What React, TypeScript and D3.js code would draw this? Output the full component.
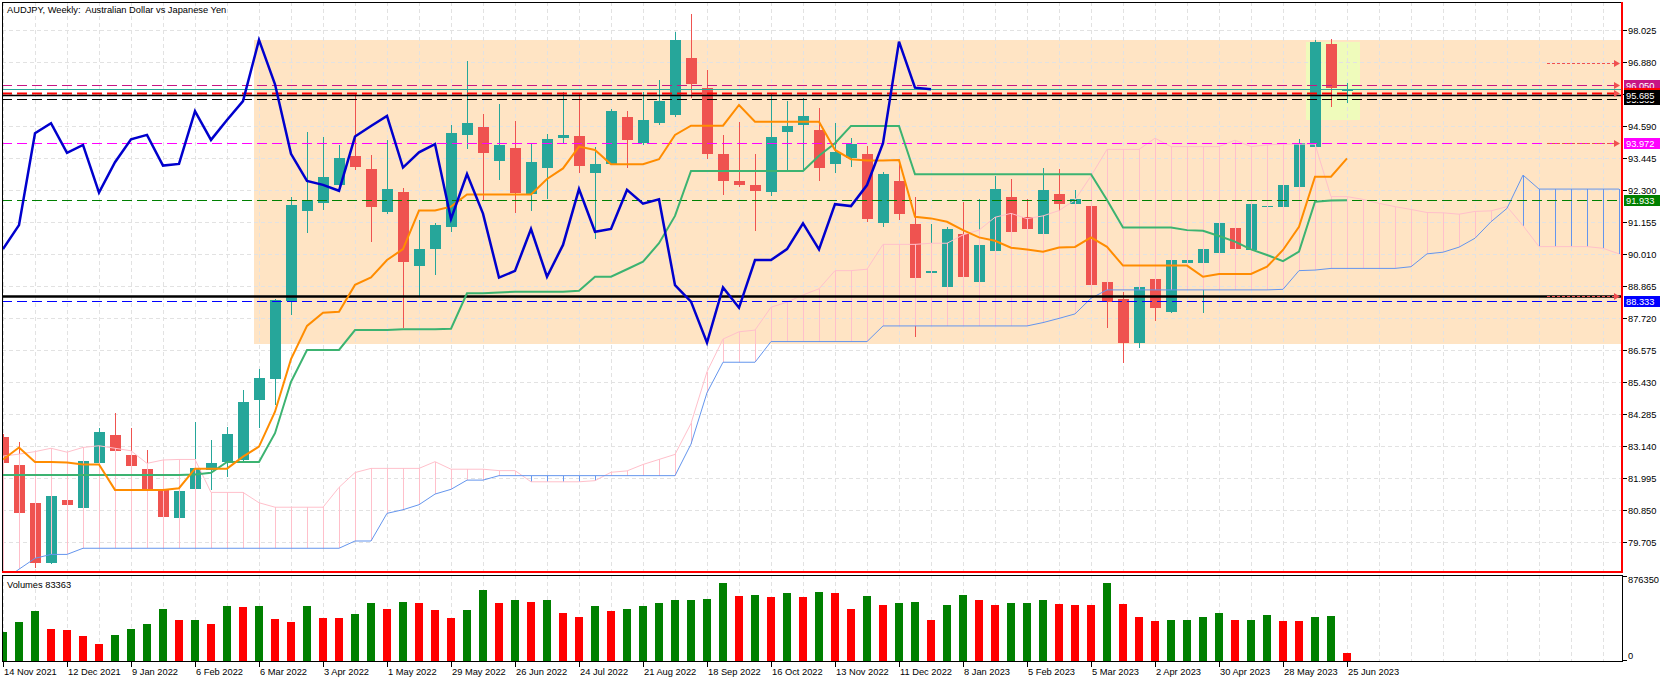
import * as d3 from "d3";

// Weekly AUDJPY candles, 14 Nov 2021 .. 25 Jun 2023 (85 bars)
const OPEN = [
  83.44, 82.45, 81.10, 78.95, 81.20, 80.92, 82.53, 83.52, 82.81, 82.31,
  81.58, 80.56, 81.60, 82.27, 82.56, 82.63, 84.78, 85.53, 88.33, 91.56,
  91.84, 92.48, 93.51, 93.05, 91.52, 92.21, 89.59, 90.17, 90.98, 94.27,
  94.55, 93.35, 93.79, 92.14, 93.07, 94.15, 94.23, 92.91, 93.23, 94.91,
  93.97, 94.70, 94.98, 97.02, 95.95, 93.59, 92.62, 92.48, 92.21, 94.39,
  94.61, 94.45, 93.23, 93.45, 93.59, 91.13, 92.62, 91.08, 89.33, 88.83,
  90.72, 89.01, 90.12, 92.04, 91.32, 90.72, 92.15, 91.81, 91.72, 88.99,
  88.38, 86.81, 89.10, 87.94, 89.67, 89.67, 90.03, 90.925, 90.15, 91.68,
  91.70, 92.41, 93.85, 97.52, 95.83,
];
const HIGH = [
  83.55, 83.26, 81.20, 81.40, 81.25, 82.62, 83.77, 84.32, 83.77, 82.99,
  81.62, 81.55, 83.99, 83.35, 83.82, 85.13, 85.89, 88.40, 92.03, 94.39,
  94.21, 93.91, 95.76, 93.55, 94.09, 92.38, 91.22, 91.10, 94.62, 96.91,
  95.02, 95.37, 94.77, 93.99, 94.29, 95.79, 95.72, 93.82, 95.19, 95.12,
  95.79, 96.23, 97.97, 98.60, 96.59, 94.27, 94.74, 93.59, 95.72, 95.48,
  95.58, 95.22, 94.68, 94.17, 93.88, 92.95, 93.23, 92.06, 91.08, 90.98,
  91.88, 91.97, 92.81, 92.69, 91.96, 93.10, 93.05, 92.30, 91.76, 89.02,
  88.66, 88.85, 89.12, 89.82, 89.82, 90.22, 91.12, 90.95, 91.82, 91.75,
  92.50, 94.12, 97.65, 97.70, 96.12,
];
const LOW = [
  82.40, 80.50, 78.77, 78.89, 80.98, 80.88, 82.50, 82.90, 82.35, 81.55,
  80.55, 80.50, 81.55, 81.56, 82.01, 82.60, 83.77, 84.61, 87.82, 90.77,
  91.58, 92.40, 93.00, 90.45, 91.45, 87.35, 88.48, 89.25, 90.80, 93.76,
  91.94, 92.65, 91.46, 91.55, 91.96, 93.97, 92.89, 90.53, 93.18, 93.10,
  93.92, 94.62, 94.90, 95.58, 93.41, 92.12, 92.42, 90.83, 92.09, 93.01,
  93.01, 92.62, 92.89, 93.13, 91.16, 90.98, 91.22, 87.02, 89.30, 88.78,
  89.10, 88.95, 90.05, 90.70, 90.85, 90.70, 91.46, 91.78, 88.85, 87.34,
  86.09, 86.65, 87.62, 87.88, 89.63, 87.88, 89.98, 90.15, 90.10, 91.65,
  91.68, 92.38, 93.80, 95.28, 95.40,
];
const CLOSE = [
  82.51, 80.74, 78.95, 81.34, 81.03, 82.59, 83.63, 82.96, 82.41, 81.58,
  80.60, 81.52, 82.33, 82.52, 83.56, 84.71, 85.57, 88.36, 91.76, 91.94,
  92.76, 93.44, 93.13, 91.70, 92.33, 89.73, 90.18, 91.04, 94.33, 94.69,
  93.63, 93.91, 92.20, 93.29, 94.11, 94.27, 93.17, 93.23, 95.12, 94.09,
  94.80, 95.48, 97.67, 96.08, 93.59, 92.62, 92.48, 92.27, 94.21, 94.59,
  94.95, 93.10, 93.645, 93.94, 91.26, 92.87, 91.45, 89.16, 89.40, 90.90,
  89.19, 90.33, 92.33, 90.80, 90.90, 92.30, 91.81, 91.96, 88.89, 88.30,
  86.83, 88.81, 88.08, 89.79, 89.79, 90.18, 91.10, 90.17, 91.79, 91.72,
  92.475, 93.97, 97.61, 95.96, 95.90,
];
const VOLUME = [
  303200, 401400, 512700, 330400, 319900, 259400, 178800, 269900, 330400, 381200,
  532800, 421500, 422800, 381200, 562600, 561000, 563500, 431200, 401400, 562600,
  441700, 440500, 482000, 602900, 532800, 613400, 593300, 522300, 441700, 522300,
  734400, 602900, 624000, 613400, 633600, 494300, 454800, 562600, 515300, 532800,
  562600, 596800, 624000, 633600, 644100, 805400, 673900, 675500, 664300, 704600,
  664300, 714200, 704600, 532800, 673900, 573100, 602900, 613400, 421500, 573100,
  684400, 624000, 573100, 593300, 594800, 624000, 582800, 581200, 573100, 799200,
  586300, 454800, 414500, 425000, 426500, 454800, 495100, 425000, 426500, 475000,
  414500, 413000, 454800, 465300, 83363,
];

// Ichimoku lines
const TENKAN = [
  82.65, 83.08, 82.56, 82.56, 82.54, 82.47, 82.47, 81.56, 81.56, 81.56,
  81.56, 81.62, 82.32, 82.32, 82.32, 82.75, 83.11, 84.36, 86.24, 87.43,
  87.90, 87.94, 88.90, 89.17, 89.79, 90.18, 91.56, 91.56, 91.70, 92.14,
  92.14, 92.14, 92.14, 92.14, 92.69, 93.07, 93.85, 93.73, 93.22, 93.22,
  93.22, 93.40, 94.27, 94.60, 94.60, 94.60, 95.34, 94.74, 94.74, 94.74,
  94.74, 94.74, 93.73, 93.40, 93.35, 93.35, 93.37, 91.34, 91.28, 91.16,
  90.86, 90.60, 90.48, 90.23, 90.17, 90.09, 90.24, 90.26, 90.60, 90.26,
  89.59, 89.59, 89.59, 89.59, 89.59, 89.19, 89.29, 89.29, 89.29, 89.55,
  90.15, 90.98, 92.77, 92.77, 93.43,
];
const KIJUN = [
  82.09, 82.09, 82.09, 82.09, 82.09, 82.09, 82.09, 82.09, 82.09, 82.09,
  82.09, 82.09, 82.11, 82.17, 82.56, 82.56, 82.56, 83.59, 85.43, 86.57,
  86.57, 86.57, 87.28, 87.28, 87.28, 87.31, 87.31, 87.31, 87.33, 88.60,
  88.60, 88.63, 88.65, 88.65, 88.65, 88.65, 88.69, 89.19, 89.19, 89.46,
  89.73, 90.39, 91.37, 92.98, 92.98, 92.98, 92.98, 92.98, 92.98, 92.98,
  92.98, 93.52, 93.97, 94.59, 94.59, 94.59, 94.59, 92.86, 92.86, 92.86,
  92.86, 92.86, 92.86, 92.86, 92.86, 92.86, 92.86, 92.86, 92.86, 91.94,
  90.95, 90.95, 90.95, 90.95, 90.86, 90.84, 90.65, 90.45, 90.17, 89.97,
  89.75, 90.09, 91.88, 91.92, 91.933,
];
// Senkou spans run 26 bars past the last candle; the panel cuts them at bar 101
const SPAN_A = [
  82.77, 82.84, 82.93, 83.05, 82.91, 83.08, 83.14, 83.05, 82.96, 82.51,
  82.63, 82.65, 82.65, 81.47, 81.47, 81.47, 81.10, 80.94, 80.94, 80.94,
  80.94, 81.65, 82.18, 82.33, 82.33, 82.33, 82.33, 82.57, 82.30, 82.30,
  82.30, 82.25, 82.25, 81.85, 81.85, 81.85, 81.85, 81.89, 82.19, 82.24,
  82.47, 82.65, 82.83, 83.94, 85.79, 86.96, 87.22, 87.28, 88.10, 88.28,
  88.54, 88.76, 89.41, 89.41, 89.46, 90.35, 90.35, 90.35, 90.39, 90.39,
  90.69, 90.86, 91.32, 91.46, 91.27, 91.37, 91.56, 91.94, 92.80, 93.75,
  93.75, 93.75, 94.15, 93.85, 93.85, 93.85, 93.85, 94.08, 93.85, 93.91,
  93.94, 93.94, 93.94, 92.06, 92.06, 91.96, 91.82, 91.70, 91.60, 91.49,
  91.48, 91.43, 91.53, 91.55, 91.70, 91.02, 90.27, 90.27, 90.27, 90.27,
  90.21, 90.01,
];
const SPAN_B = [
  78.30, 78.72, 79.11, 79.25, 79.25, 79.47, 79.47, 79.47, 79.47, 79.47,
  79.47, 79.47, 79.47, 79.47, 79.47, 79.47, 79.47, 79.47, 79.47, 79.47,
  79.47, 79.47, 79.73, 79.73, 80.72, 80.85, 81.03, 81.41, 81.58, 81.91,
  81.91, 82.07, 82.07, 82.07, 82.07, 82.07, 82.07, 82.07, 82.07, 82.07,
  82.07, 82.07, 82.07, 83.20, 85.04, 86.13, 86.13, 86.13, 86.87, 86.87,
  86.87, 86.87, 86.87, 86.87, 86.87, 87.43, 87.43, 87.43, 87.43, 87.43,
  87.43, 87.43, 87.43, 87.43, 87.43, 87.55, 87.70, 87.86, 88.42, 88.72,
  88.72, 88.72, 88.72, 88.72, 88.72, 88.72, 88.72, 88.72, 88.72, 88.72,
  88.74, 89.41, 89.43, 89.49, 89.49, 89.49, 89.49, 89.49, 89.55, 90.01,
  90.07, 90.25, 90.57, 91.16, 91.64, 92.83, 92.33, 92.33, 92.33, 92.33,
  92.33, 92.33,
];
const CHIKOU_SHIFT = 26;

const DATE_LABELS = [
  "14 Nov 2021", "12 Dec 2021", "9 Jan 2022", "6 Feb 2022", "6 Mar 2022", "3 Apr 2022",
  "1 May 2022", "29 May 2022", "26 Jun 2022", "24 Jul 2022", "21 Aug 2022", "18 Sep 2022",
  "16 Oct 2022", "13 Nov 2022", "11 Dec 2022", "8 Jan 2023", "5 Feb 2023", "5 Mar 2023",
  "2 Apr 2023", "30 Apr 2023", "28 May 2023", "25 Jun 2023",
];
const PRICE_TICKS = [
  98.025, 96.88, 95.735, 94.59, 93.445, 92.3, 91.155, 90.01, 88.865,
  87.72, 86.575, 85.43, 84.285, 83.14, 81.995, 80.85, 79.705,
];
// this tick's text is covered by the price tags in the reference
const HIDDEN_TICK = 95.735;
const VOLUME_MAX = 876350;

// horizontal levels drawn on the chart
const LEVELS = {
  violet: 96.05,
  bid: 95.9,
  redDash: 95.76,
  black: 95.685,
  blackDash: 95.565,
  magenta: 93.972,
  green: 91.933,
  support: 88.512,
  blue: 88.333,
};
const TRADE_LINES = [96.86, 93.972, 88.512];
const TRADE_ARROWS = [96.05, 95.76];
const TRADE_FROM = 96.5;

const RANGE_BOX = { from: 15.69, to: 120, top: 97.67, bottom: 86.79 };
const LAST_BOX = { from: 81.44, to: 84.81, top: 97.61, bottom: 94.8 };

const FONT = "Tahoma, 'Liberation Sans', Arial, sans-serif";
const BULL = "#26a69a";
const BEAR = "#ef5350";

export default function App() {
  const W = 1670;
  const H = 683;
  const left = 2;
  const right = 1622;
  const top = 2;
  const bottom = 572;
  const volTop = 575;
  const volBottom = 662;

  const x = d3.scaleLinear().domain([0, 101]).range([3, 3 + 16 * 101]);
  const y = d3.scaleLinear().domain([79.705, 98.025]).range([541.7, 30]);
  const yv = d3.scaleLinear().domain([0, VOLUME_MAX]).range([661, 576]);
  const px = (i: number) => Math.round(x(i));
  const py = (p: number) => Math.round(y(p));

  const idx = OPEN.map((_, i) => i);
  const cloudIdx = SPAN_A.map((_, i) => i);
  const gridBars = d3.range(0, 101, 2);

  const line = d3
    .line<[number, number]>()
    .x((d) => x(d[0]))
    .y((d) => y(d[1]));

  const seriesPath = (vals: number[], offset = 0) =>
    line(vals.map((v, i) => [i + offset, v] as [number, number])) ?? "";

  const chikou = CLOSE.slice(CHIKOU_SHIFT);

  const levelStyle: Record<string, { stroke: string; w: number; dash?: string }> = {
    violet: { stroke: "#c71585", w: 1, dash: "10,5" },
    bid: { stroke: "#26a69a", w: 1 },
    redDash: { stroke: "#ff0000", w: 2, dash: "10,5" },
    black: { stroke: "#000000", w: 1.3 },
    blackDash: { stroke: "#000000", w: 1, dash: "10,5" },
    magenta: { stroke: "#ff00ff", w: 1, dash: "10,5" },
    green: { stroke: "#008000", w: 1, dash: "10,5" },
    support: { stroke: "#000000", w: 2.5 },
    blue: { stroke: "#0000ff", w: 1, dash: "10,5" },
  };

  // price tags on the axis; the red one sits under the black tags, so only its box shows
  const labelBoxes: { key: keyof typeof LEVELS; fill: string; showText: boolean }[] = [
    { key: "violet", fill: "#c71585", showText: true },
    { key: "redDash", fill: "#ff0000", showText: false },
    { key: "blackDash", fill: "#000000", showText: true },
    { key: "black", fill: "#000000", showText: true },
    { key: "magenta", fill: "#ff00ff", showText: true },
    { key: "green", fill: "#008000", showText: true },
    { key: "blue", fill: "#0000ff", showText: true },
  ];

  return (
    <div style={{ position: "absolute", left: 0, top: 0 }}>
      <svg width={W} height={H} style={{ display: "block", background: "#fff" }}>
        <defs>
          <clipPath id="main">
            <rect x={left} y={top} width={right - left} height={bottom - top} />
          </clipPath>
          <clipPath id="vol">
            <rect x={left} y={volTop} width={right - left} height={volBottom - volTop} />
          </clipPath>
        </defs>

        <g clipPath="url(#main)">
          {/* background objects */}
          <rect
            x={px(RANGE_BOX.from)}
            y={py(RANGE_BOX.top)}
            width={px(RANGE_BOX.to) - px(RANGE_BOX.from)}
            height={py(RANGE_BOX.bottom) - py(RANGE_BOX.top)}
            fill="#ffe4c4"
            shapeRendering="crispEdges"
          />
          <rect
            x={px(LAST_BOX.from)}
            y={py(LAST_BOX.top)}
            width={px(LAST_BOX.to) - px(LAST_BOX.from)}
            height={py(LAST_BOX.bottom) - py(LAST_BOX.top)}
            fill="#effbbb"
            shapeRendering="crispEdges"
          />

          {/* grid */}
          <g stroke="#e2e2e2" strokeDasharray="4,3" shapeRendering="crispEdges">
            {PRICE_TICKS.map((t) => (
              <line key={"h" + t} x1={left} x2={right} y1={py(t) + 0.5} y2={py(t) + 0.5} />
            ))}
            {gridBars.map((b) => (
              <line key={"v" + b} x1={px(b) + 0.5} x2={px(b) + 0.5} y1={top} y2={bottom} />
            ))}
          </g>

          {/* candles */}
          {idx.map((i) => {
            const o = OPEN[i];
            const c = CLOSE[i];
            const col = c >= o ? BULL : BEAR;
            const cx = px(i);
            const yt = py(Math.max(o, c));
            const yb = py(Math.min(o, c));
            return (
              <g key={"c" + i} shapeRendering="crispEdges">
                <line x1={cx + 0.5} x2={cx + 0.5} y1={py(HIGH[i])} y2={py(LOW[i])} stroke={col} />
                <rect x={cx - 5} y={yt} width={11} height={Math.max(1, yb - yt)} fill={col} />
              </g>
            );
          })}

          {/* kumo hatch */}
          {cloudIdx.map((i) => {
            const a = SPAN_A[i];
            const b = SPAN_B[i];
            return (
              <line
                key={"k" + i}
                x1={px(i) + 0.5}
                x2={px(i) + 0.5}
                y1={y(a)}
                y2={y(b)}
                stroke={a >= b ? "#ffc0cb" : "#6495ed"}
                shapeRendering="crispEdges"
              />
            );
          })}
          <path d={seriesPath(SPAN_A)} fill="none" stroke="#ffc0cb" strokeWidth={1} />
          <path d={seriesPath(SPAN_B)} fill="none" stroke="#6495ed" strokeWidth={1} />

          {/* horizontal levels */}
          {(Object.keys(LEVELS) as (keyof typeof LEVELS)[]).map((k) => {
            const s = levelStyle[k];
            const yy = py(LEVELS[k]) + 0.5;
            return (
              <line
                key={"l" + k}
                x1={left}
                x2={right}
                y1={yy}
                y2={yy}
                stroke={s.stroke}
                strokeWidth={s.w}
                strokeDasharray={s.dash}
              />
            );
          })}

          {/* trade levels */}
          {TRADE_LINES.map((p) => (
            <line
              key={"t" + p}
              x1={px(TRADE_FROM)}
              x2={right - 4}
              y1={py(p) + 0.5}
              y2={py(p) + 0.5}
              stroke="#f05050"
              strokeDasharray="3,2"
            />
          ))}
          {[...TRADE_LINES, ...TRADE_ARROWS].map((p) => {
            const yy = py(p) + 0.5;
            return (
              <path
                key={"a" + p}
                d={`M${right - 8},${yy - 3.5}L${right - 2},${yy}L${right - 8},${yy + 3.5}Z`}
                fill="#f05050"
              />
            );
          })}

          {/* ichimoku lines */}
          <path d={seriesPath(KIJUN)} fill="none" stroke="#3cb371" strokeWidth={2} />
          <path d={seriesPath(TENKAN)} fill="none" stroke="#ff8c00" strokeWidth={2} />
          <path d={seriesPath(chikou)} fill="none" stroke="#0000cd" strokeWidth={2.5} />
        </g>

        {/* main panel frame */}
        <g shapeRendering="crispEdges">
          <line x1={left + 0.5} x2={left + 0.5} y1={top} y2={bottom - 1} stroke="#000" />
          <line x1={left} x2={right} y1={top + 0.5} y2={top + 0.5} stroke="#000" />
          <line x1={left} x2={right + 1} y1={bottom} y2={bottom} stroke="#ff0000" strokeWidth={2} />
          <line x1={right} x2={right} y1={top} y2={bottom + 1} stroke="#ff0000" strokeWidth={2} />
        </g>

        <text x={7} y={13} fontFamily={FONT} fontSize={9.3} fill="#000" style={{ whiteSpace: "pre" }}>
          {"AUDJPY, Weekly:  Australian Dollar vs Japanese Yen"}
        </text>

        {/* price axis */}
        {PRICE_TICKS.map((t) => (
          <g key={"pt" + t}>
            <line
              x1={right + 1}
              x2={right + 5}
              y1={py(t) + 0.5}
              y2={py(t) + 0.5}
              stroke="#000"
              shapeRendering="crispEdges"
            />
            {t !== HIDDEN_TICK && (
              <text x={right + 6} y={py(t) + 3.5} fontFamily={FONT} fontSize={9.3} fill="#000">
                {t.toFixed(3)}
              </text>
            )}
          </g>
        ))}
        {labelBoxes.map(({ key, fill, showText }) => {
          const yy = py(LEVELS[key]);
          return (
            <g key={"lb" + key}>
              <rect x={right + 2} y={yy - 5} width={36} height={11} fill={fill} shapeRendering="crispEdges" />
              {showText && (
                <text x={right + 4} y={yy + 3.5} fontFamily={FONT} fontSize={9.3} fill="#fff">
                  {LEVELS[key].toFixed(3)}
                </text>
              )}
            </g>
          );
        })}

        {/* volume panel */}
        <g clipPath="url(#vol)">
          <g stroke="#e2e2e2" strokeDasharray="4,3" shapeRendering="crispEdges">
            {gridBars.map((b) => (
              <line key={"vv" + b} x1={px(b) + 0.5} x2={px(b) + 0.5} y1={volTop} y2={volBottom} />
            ))}
          </g>
          {VOLUME.map((v, i) => {
            const up = i === 0 || v > VOLUME[i - 1];
            const yt = Math.round(yv(v));
            return (
              <rect
                key={"v" + i}
                x={px(i) - 4}
                y={yt}
                width={8}
                height={Math.round(yv(0)) - yt}
                fill={up ? "#008000" : "#ff0000"}
                shapeRendering="crispEdges"
              />
            );
          })}
        </g>
        <rect
          x={left + 0.5}
          y={volTop + 0.5}
          width={right - left}
          height={volBottom - volTop - 1}
          fill="none"
          stroke="#000"
          shapeRendering="crispEdges"
        />
        <text x={7} y={588} fontFamily={FONT} fontSize={9.3} fill="#000">
          {`Volumes ${VOLUME[VOLUME.length - 1]}`}
        </text>
        <line x1={right} x2={right + 5} y1={volTop + 1.5} y2={volTop + 1.5} stroke="#000" shapeRendering="crispEdges" />
        <line x1={right} x2={right + 5} y1={volBottom - 1.5} y2={volBottom - 1.5} stroke="#000" shapeRendering="crispEdges" />
        <text x={right + 6} y={583} fontFamily={FONT} fontSize={9.3} fill="#000">
          {String(VOLUME_MAX)}
        </text>
        <text x={right + 6} y={659} fontFamily={FONT} fontSize={9.3} fill="#000">
          0
        </text>

        {/* time axis */}
        {DATE_LABELS.map((d, k) => {
          const tx = px(k * 4);
          return (
            <g key={"d" + k}>
              <line
                x1={tx + 0.5}
                x2={tx + 0.5}
                y1={volBottom}
                y2={volBottom + 5}
                stroke="#000"
                shapeRendering="crispEdges"
              />
              <text x={tx + 1} y={675} fontFamily={FONT} fontSize={9.3} fill="#000">
                {d}
              </text>
            </g>
          );
        })}
      </svg>
    </div>
  );
}
